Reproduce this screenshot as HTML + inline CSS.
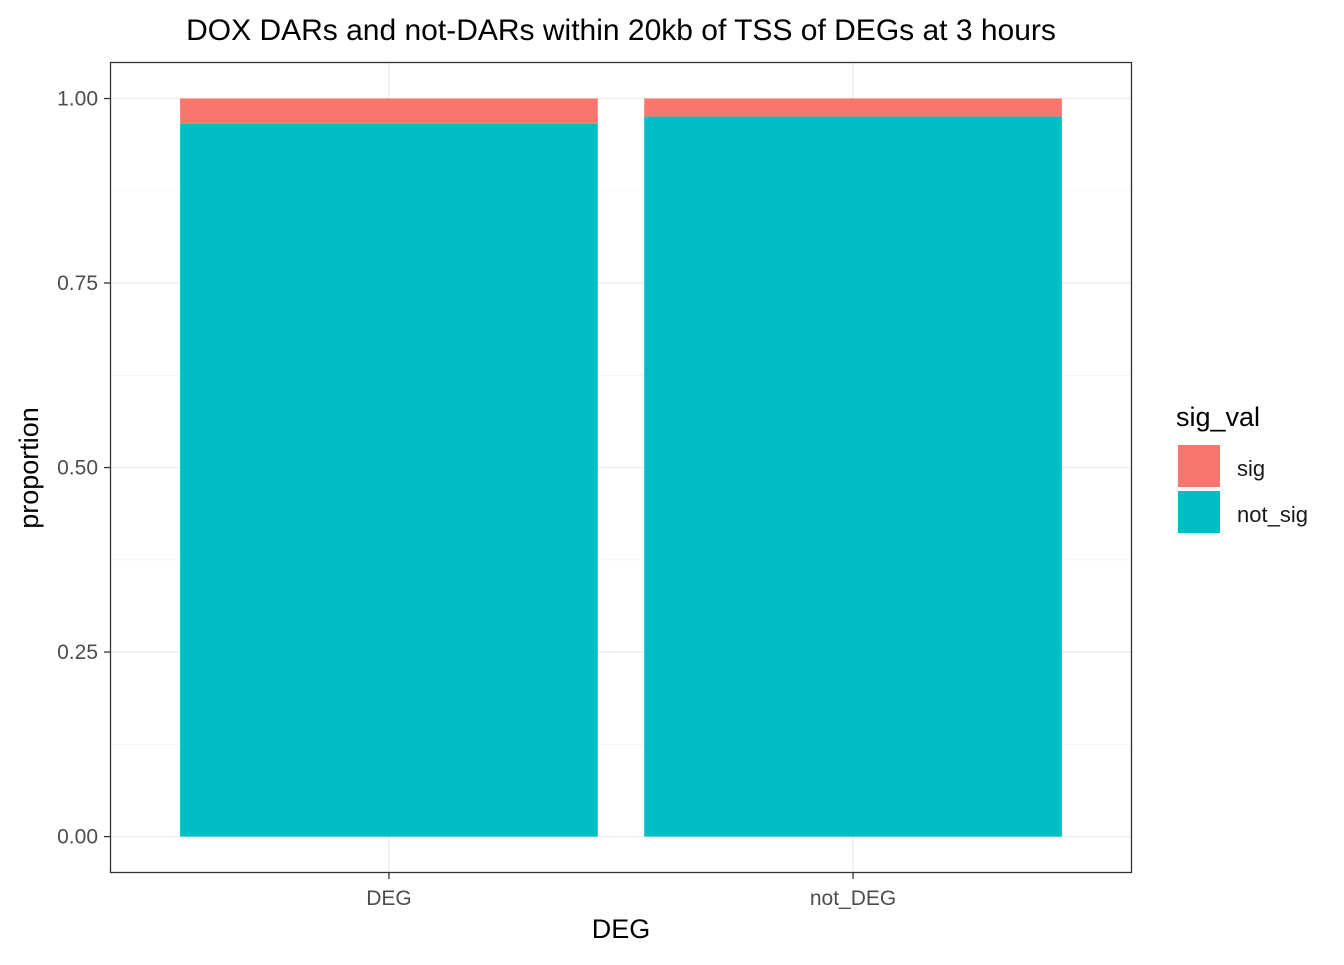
<!DOCTYPE html>
<html><head><meta charset="utf-8"><style>
body{margin:0;background:#fff;font-family:"Liberation Sans",Arial,sans-serif}
</style></head><body>
<svg width="1344" height="960" xmlns="http://www.w3.org/2000/svg" font-family="Liberation Sans, Arial, sans-serif">
<text x="621" y="40" font-size="30" text-anchor="middle" fill="#000">DOX DARs and not-DARs within 20kb of TSS of DEGs at 3 hours</text>
<g id="grid"></g>
<g id="bars"></g>
<rect x="110.5" y="62.5" width="1021" height="810" fill="none" stroke="#333" stroke-width="1.3"/>
<g id="axes"></g>
<text x="621" y="938" font-size="27" text-anchor="middle">DEG</text>
<text transform="translate(38,468) rotate(-90)" font-size="27" text-anchor="middle">proportion</text>
<g>
<text x="1176" y="426" font-size="27">sig_val</text>
<rect x="1178" y="445" width="42" height="42" fill="#F8766D"/>
<text x="1237" y="476" font-size="22" fill="#1a1a1a">sig</text>
<rect x="1178" y="491" width="42" height="42" fill="#00BFC4"/>
<text x="1237" y="522" font-size="22" fill="#1a1a1a">not_sig</text>
</g>
</svg>
<script>
const categories = ["DEG", "not_DEG"];
const notSigValues = [0.9656, 0.9755];
const sigValues = [0.0344, 0.0245];
const yTicks = [0, 0.25, 0.5, 0.75, 1.0];
const yTickLabels = ["0.00", "0.25", "0.50", "0.75", "1.00"];

const NS = "http://www.w3.org/2000/svg";
const y = v => 836.6 - v * 738.1;
const bandStart = 110.5, bandW = 1021 / 2.2;
const xc = i => 110.5 + (0.6 + i) * bandW;
const bw = 0.9 * bandW;
function mk(tag, attrs, parent) {
  const e = document.createElementNS(NS, tag);
  for (const k in attrs) e.setAttribute(k, attrs[k]);
  parent.appendChild(e); return e;
}
const grid = document.getElementById('grid'), bars = document.getElementById('bars'), axes = document.getElementById('axes');
for (let i = 0; i < yTicks.length; i++) {
  const g = mk('line', {x1: 110.5, x2: 1131.5, y1: y(yTicks[i]), y2: y(yTicks[i]), stroke: '#ebebeb', 'stroke-width': 1.3}, grid);
  
  
  if (i < yTicks.length - 1) {
    const m = mk('line', {x1: 110.5, x2: 1131.5, y1: y((yTicks[i] + yTicks[i+1]) / 2), y2: y((yTicks[i] + yTicks[i+1]) / 2), stroke: '#f3f3f3', 'stroke-width': 0.8}, grid);
    
    
  }
  const t = mk('line', {x1: 104, x2: 110.5, y1: y(yTicks[i]), y2: y(yTicks[i]), stroke: '#333', 'stroke-width': 1.3}, axes);
  
  
  const l = mk('text', {x: 98, y: y(yTicks[i]) + 7, 'font-size': 21, 'text-anchor': 'end', fill: '#4d4d4d'}, axes);
  l.textContent = yTickLabels[i];
  
  
}
categories.forEach((c, i) => {
  const g = mk('line', {x1: xc(i), x2: xc(i), y1: 62.5, y2: 872.5, stroke: '#ebebeb', 'stroke-width': 1.3}, grid);
  
  
  const b1 = mk('rect', {x: xc(i) - bw/2, y: y(notSigValues[i]), width: bw, height: y(0) - y(notSigValues[i]), fill: '#00BFC4'}, bars);
  
  
  const top = notSigValues[i] + sigValues[i];
  const b2 = mk('rect', {x: xc(i) - bw/2, y: y(top), width: bw, height: y(notSigValues[i]) - y(top), fill: '#F8766D'}, bars);
  
  
  const t = mk('line', {x1: xc(i), x2: xc(i), y1: 872.5, y2: 879, stroke: '#333', 'stroke-width': 1.3}, axes);
  
  
  const l = mk('text', {x: xc(i), y: 905, 'font-size': 21, 'text-anchor': 'middle', fill: '#4d4d4d'}, axes);
  l.textContent = c;
  
  
});
</script>
</body></html>
